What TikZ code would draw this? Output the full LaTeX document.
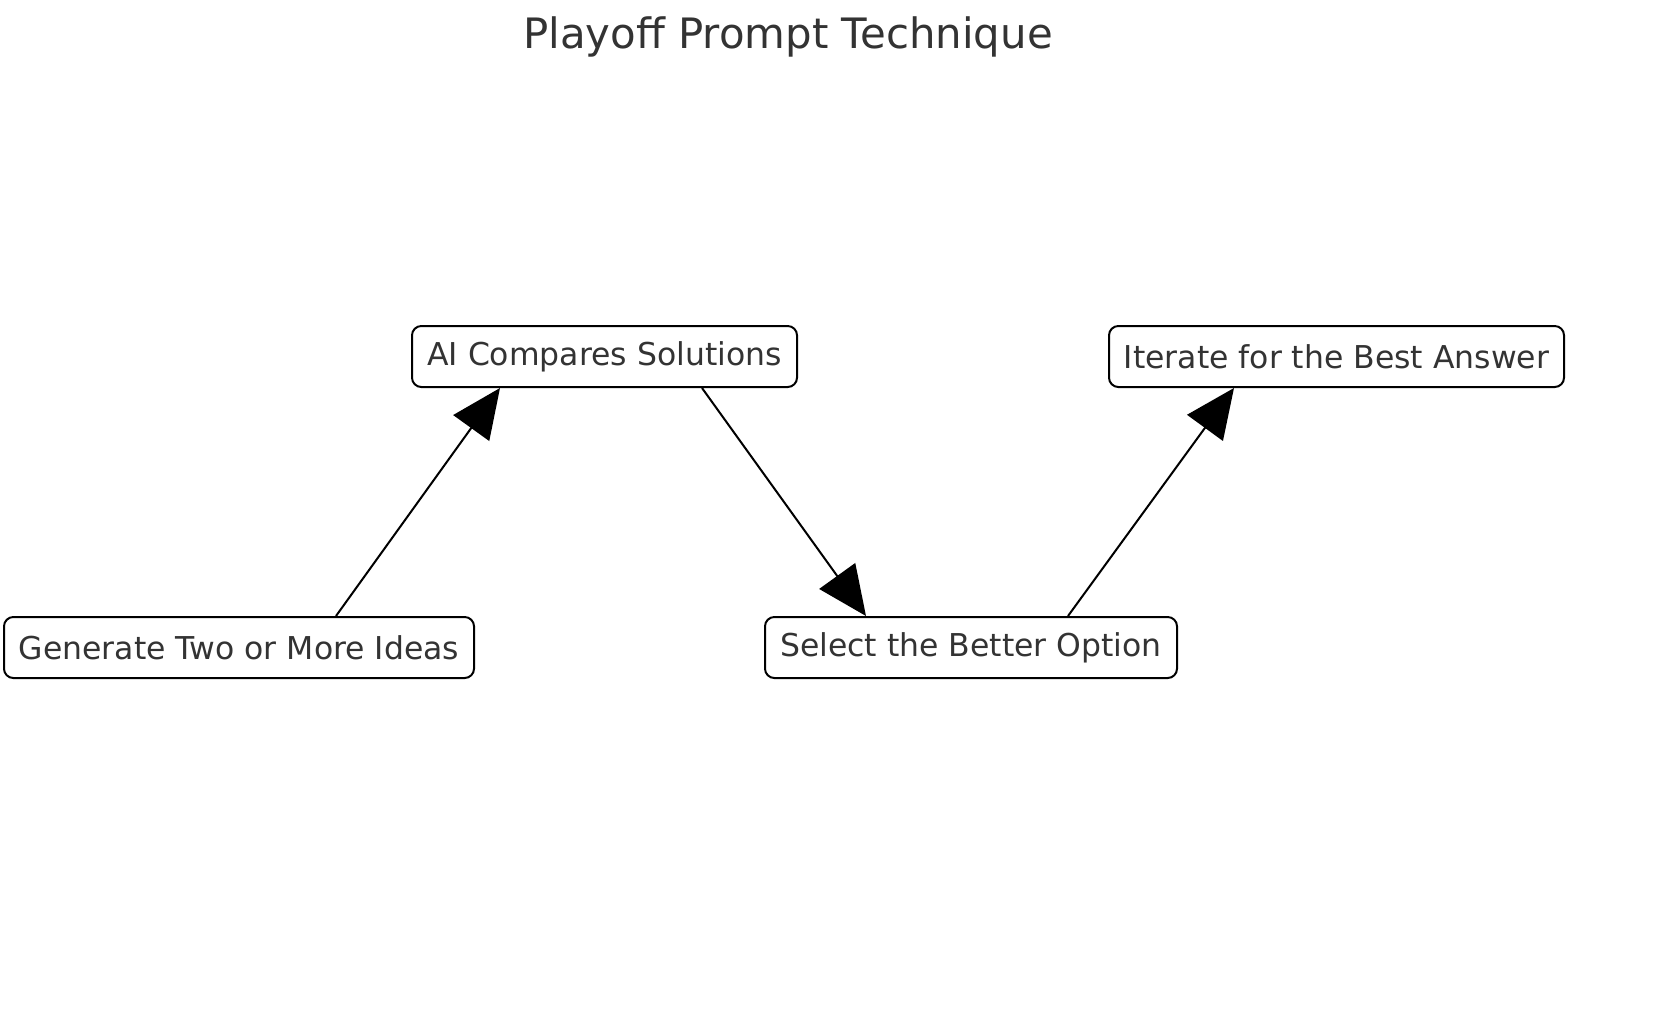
\documentclass[tikz,border=0pt]{standalone}
\usepackage{fontspec}
\setmainfont{DejaVu Sans}
\usetikzlibrary{calc,arrows.meta}
\definecolor{txt}{HTML}{333333}
\begin{document}
\begin{tikzpicture}[x=0.75pt,y=-0.75pt,
 box/.style={draw=black,line width=1.5pt,rounded corners=7pt,fill=white,text=txt,font=\fontsize{23.6}{28}\selectfont,inner sep=0pt,minimum height=45.75pt},
 arr/.style={line width=1.5pt,-{Triangle[length=37pt,width=33pt]}}]
\useasboundingbox (0,0) rectangle (1661,1014);
\node[text=txt,font=\fontsize{31.4}{36}\selectfont] (t) at (788,37) {Playoff Prompt Technique};
\node[box,minimum width=352.5pt] (n1) at (239,647.5) {Generate Two or More Ideas};
\node[box,minimum width=288.75pt] (n2) at (604.5,356.5) {AI Compares Solutions};
\node[box,minimum width=309pt] (n3) at (971,647.5) {Select the Better Option};
\node[box,minimum width=341.25pt] (n4) at (1336.5,356.5) {Iterate for the Best Answer};
\draw[arr] ($(n1.north)+(97,0)$) -- ($(n2.south)+(-104.5,0)$);
\draw[arr] ($(n2.south)+(97.5,0)$) -- ($(n3.north)+(-105,0)$);
\draw[arr] ($(n3.north)+(97,0)$) -- ($(n4.south)+(-102.5,0)$);
\end{tikzpicture}
\end{document}
